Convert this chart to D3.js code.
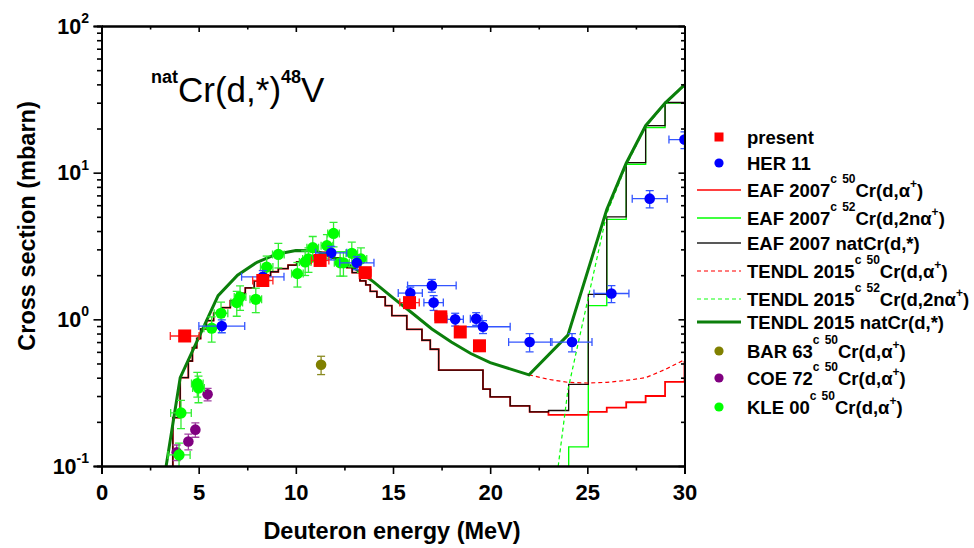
<!DOCTYPE html>
<html><head><meta charset="utf-8">
<script src="https://cdn.jsdelivr.net/npm/d3@7"></script>
<style>
body{margin:0;background:#fff}
svg{display:block}
text{font-family:"Liberation Sans",Arial,Helvetica,sans-serif}
</style>
</head><body>
<svg id="c" width="974" height="548"></svg>
<script>
// ---------------- data ----------------
const xTicks = [0, 5, 10, 15, 20, 25, 30];
const yTicks = [0.1, 1, 10, 100];
const yTickExp = ["-1", "0", "1", "2"];

// present (this work)
const presE  = [4.28, 8.30, 11.25, 13.57, 15.85, 17.46, 18.46, 19.45];
const presV  = [0.77, 1.84, 2.52, 2.08, 1.30, 1.04, 0.82, 0.66];
const presdE = [0.74, 0.52, 0.45, 0.30, 0.50, 0.30, 0.25, 0.20];
const presdV = [0.06, 0.12, 0.15, 0.13, 0.08, 0.07, 0.05, 0.05];

// HER 11
const herE  = [6.19, 8.30, 11.82, 13.14, 15.89, 17.00, 17.09, 18.20, 19.28, 19.63, 22.03, 24.21, 26.24, 28.21, 30.00];
const herV  = [0.90, 1.95, 2.84, 2.43, 1.51, 1.70, 1.30, 1.00, 1.01, 0.89, 0.70, 0.70, 1.50, 6.65, 16.8];
const herdE = [1.18, 1.09, 0.80, 0.88, 0.62, 1.25, 0.50, 0.42, 0.30, 1.40, 1.08, 1.03, 0.90, 0.90, 0.80];
const herdV = [0.09, 0.20, 0.30, 0.25, 0.15, 0.17, 0.15, 0.10, 0.10, 0.09, 0.10, 0.10, 0.20, 0.90, 2.2];

// BAR 63
const barE = [11.3], barV = [0.49], bardV = [0.07];

// COE 72
const coeE  = [3.87, 4.47, 4.83, 5.46];
const coeV  = [0.124, 0.147, 0.177, 0.308];
const coedV = [0.015, 0.018, 0.02, 0.03];

// KLE 00
const kleE  = [3.99, 4.09, 4.93, 4.99, 5.67, 6.15, 6.96, 7.13, 7.94, 8.50, 9.10, 10.08, 10.48, 10.65, 10.87, 11.60, 11.94, 12.28, 12.45, 12.88, 13.35];
const kleV  = [0.119, 0.23, 0.365, 0.34, 0.87, 1.10, 1.30, 1.42, 1.37, 2.27, 2.77, 2.05, 2.46, 2.58, 3.08, 3.18, 3.85, 2.43, 2.43, 2.82, 2.58];
const kledE = [0.57, 0.53, 0.30, 0.30, 0.40, 0.35, 0.30, 0.30, 0.30, 0.32, 0.30, 0.30, 0.30, 0.30, 0.30, 0.30, 0.30, 0.30, 0.30, 0.30, 0.30];
const kledV = [0.024, 0.05, 0.07, 0.07, 0.17, 0.21, 0.25, 0.27, 0.26, 0.43, 0.53, 0.39, 0.47, 0.49, 0.59, 0.6, 0.73, 0.46, 0.46, 0.54, 0.49];

// EAF 2007 natCr(d,*) staircase
const eafNatE = [3.0, 3.67, 4.05, 4.47, 4.68, 4.90, 5.10, 5.40, 5.77, 6.20, 6.63, 7.00, 7.40, 7.86, 8.30, 8.70, 9.10, 9.60, 10.04, 10.50, 10.90, 11.30, 11.85, 12.30, 12.62, 12.90, 13.30, 13.60, 13.83, 14.17, 14.60, 14.94, 15.71, 16.49, 16.92, 17.35, 19.63, 20.00, 21.03, 22.03, 23.00, 24.04, 25.05, 26.00, 27.00, 28.00, 29.00, 30.00];
const eafNatV = [0.02, 0.214, 0.40, 0.52, 0.64, 0.74, 0.86, 0.98, 1.10, 1.20, 1.34, 1.50, 1.64, 1.83, 1.98, 2.11, 2.22, 2.34, 2.46, 2.60, 2.72, 2.86, 2.62, 2.45, 2.25, 2.08, 1.83, 1.72, 1.55, 1.42, 1.24, 1.06, 0.855, 0.72, 0.625, 0.45, 0.334, 0.296, 0.257, 0.234, 0.239, 0.36, 1.48, 5.0, 11.7, 20.9, 30.1, 30.1];
// EAF 2007 50Cr(d,a) contribution
const eaf50E = [3.0, 3.67, 4.05, 4.47, 4.68, 4.90, 5.10, 5.40, 5.77, 6.20, 6.63, 7.00, 7.40, 7.86, 8.30, 8.70, 9.10, 9.60, 10.04, 10.50, 10.90, 11.30, 11.85, 12.30, 12.62, 12.90, 13.30, 13.60, 13.83, 14.17, 14.60, 14.94, 15.71, 16.49, 16.92, 17.35, 19.63, 20.00, 21.03, 22.03, 23.00, 25.05, 26.00, 27.00, 28.00, 29.00, 30.00];
const eaf50V = [0.02, 0.214, 0.40, 0.52, 0.64, 0.74, 0.86, 0.98, 1.10, 1.20, 1.34, 1.50, 1.64, 1.83, 1.98, 2.11, 2.22, 2.34, 2.46, 2.60, 2.72, 2.86, 2.62, 2.45, 2.25, 2.08, 1.83, 1.72, 1.55, 1.42, 1.24, 1.06, 0.855, 0.72, 0.625, 0.45, 0.334, 0.296, 0.257, 0.234, 0.223, 0.234, 0.25, 0.272, 0.30, 0.375, 0.52];
// EAF 2007 52Cr(d,2na) contribution
const eaf52E = [23.0, 24.04, 25.05, 26.0, 27.0, 28.0, 29.0, 30.0];
const eaf52V = [0.02, 0.135, 1.24, 4.8, 11.4, 20.3, 29.8, 29.8];

// TENDL 2015
const tNatE = [3.3, 4.05, 6, 7, 8, 9, 10, 11, 12, 13, 14, 15, 16, 17, 18, 19, 20, 22, 24, 26, 27, 28, 29, 30];
const tNatV = [0.095, 0.40, 1.45, 2.0, 2.45, 2.78, 2.95, 2.93, 2.62, 2.25, 1.80, 1.40, 1.10, 0.86, 0.70, 0.585, 0.507, 0.418, 0.78, 5.6, 11.6, 20.9, 29.8, 39.7];
const t50E = [22, 23, 24, 25, 26, 27, 28, 29, 30];
const t50V = [0.418, 0.39, 0.372, 0.368, 0.372, 0.383, 0.40, 0.455, 0.53];
const t52E = [23, 24, 26, 27, 28, 29, 30];
const t52V = [0.03, 0.33, 5.25, 11.2, 20.5, 29.35, 39.2];

const legendLabels = [
  "present",
  "HER 11",
  "EAF 2007^{c} ^{50}Cr(d,α^{+})",
  "EAF 2007^{c} ^{52}Cr(d,2nα^{+})",
  "EAF 2007 natCr(d,*)",
  "TENDL 2015^{c} ^{50}Cr(d,α^{+})",
  "TENDL 2015^{c} ^{52}Cr(d,2nα^{+})",
  "TENDL 2015 natCr(d,*)",
  "BAR 63^{c} ^{50}Cr(d,α^{+})",
  "COE 72^{c} ^{50}Cr(d,α^{+})",
  "KLE 00^{c} ^{50}Cr(d,α^{+})"
];

// ---------------- drawing ----------------
const svg = d3.select("#c");
const m = {l: 101.5, r: 684.5, t: 26, b: 466};
const x = d3.scaleLinear().domain([0, 30]).range([m.l, m.r]);
const y = d3.scaleLog().domain([0.1, 100]).range([m.b, m.t]);

svg.append("defs").append("clipPath").attr("id", "clip")
  .append("rect").attr("x", m.l).attr("y", m.t).attr("width", m.r - m.l).attr("height", m.b - m.t);

const plot = svg.append("g").attr("clip-path", "url(#clip)");
const zip = (E, V) => E.map((e, i) => [e, V[i]]);
const yy = v => y(Math.max(v, 1e-4));
const line = d3.line().x(d => x(d[0])).y(d => yy(d[1]));
const step = d3.line().curve(d3.curveStepAfter).x(d => x(d[0])).y(d => yy(d[1]));

const C = {red: "#ff0000", lime: "#00ff00", black: "#000000", dgreen: "#0b7f0b",
           blue: "#0000ff", olive: "#808000", purple: "#800080"};

function path(g, d, gen, color, w, dash) {
  const p = g.append("path").attr("d", gen(d)).attr("fill", "none")
    .attr("stroke", color).attr("stroke-width", w).attr("stroke-linejoin", "miter");
  if (dash) p.attr("stroke-dasharray", dash);
}
path(plot, zip(eaf50E, eaf50V), step, C.red, 1.8);
path(plot, zip(eaf52E, eaf52V), step, C.lime, 1.4);
path(plot, zip(eafNatE, eafNatV), step, "#1a0a0a", 1.3);
path(plot, zip(t50E, t50V), line, C.red, 1.2, "4,3");
path(plot, zip(t52E, t52V), line, C.lime, 1.2, "4,3");
path(plot, zip(tNatE, tNatV), line, C.dgreen, 3);

function series(E, V, dE, dV, color, barColor, shape, size) {
  const g = plot.append("g");
  const cap = 4;
  E.forEach((e, i) => {
    const cx = x(e), cy = y(V[i]);
    const de = dE ? dE[i] : 0, dv = dV ? dV[i] : 0;
    if (de > 0) {
      const x1 = x(e - de), x2 = x(e + de);
      g.append("line").attr("x1", x1).attr("x2", x2).attr("y1", cy).attr("y2", cy);
      g.append("line").attr("x1", x1).attr("x2", x1).attr("y1", cy - cap).attr("y2", cy + cap);
      g.append("line").attr("x1", x2).attr("x2", x2).attr("y1", cy - cap).attr("y2", cy + cap);
    }
    if (dv > 0) {
      const y1 = y(V[i] + dv), y2 = y(Math.max(V[i] - dv, 1e-3));
      g.append("line").attr("x1", cx).attr("x2", cx).attr("y1", y1).attr("y2", y2);
      g.append("line").attr("x1", cx - cap).attr("x2", cx + cap).attr("y1", y1).attr("y2", y1);
      g.append("line").attr("x1", cx - cap).attr("x2", cx + cap).attr("y1", y2).attr("y2", y2);
    }
  });
  g.selectAll("line").attr("stroke", barColor).attr("stroke-width", 1.3);
  E.forEach((e, i) => {
    const cx = x(e), cy = y(V[i]);
    if (shape === "square") {
      g.append("rect").attr("x", cx - size / 2).attr("y", cy - size / 2)
        .attr("width", size).attr("height", size).attr("fill", color);
    } else {
      g.append("circle").attr("cx", cx).attr("cy", cy).attr("r", size).attr("fill", color);
    }
  });
}
series(barE, barV, null, bardV, C.olive, "#8a8a20", "circle", 5.3);
series(coeE, coeV, null, coedV, C.purple, "#a040a0", "circle", 5.3);
series(kleE, kleV, kledE, kledV, C.lime, "#33ee33", "circle", 5.6);
series(herE, herV, herdE, herdV, C.blue, "#3355ff", "circle", 5.3);
series(presE, presV, presdE, presdV, C.red, "#ff2020", "square", 13);

// ---------------- axes ----------------
const axes = svg.append("g");
function styleAxis(g, w) {
  g.select(".domain").attr("stroke", "#000").attr("stroke-width", 2);
  g.selectAll(".tick line").attr("stroke", "#000").attr("stroke-width", w || 1.6);
}
const xMinor = d3.range(2.5, 30, 5);
const yMinor = [];
[0.1, 1, 10].forEach(d => { for (let k = 2; k <= 9; k++) yMinor.push(d * k); });

// bottom
const gb = axes.append("g").attr("transform", `translate(0,${m.b})`)
  .call(d3.axisBottom(x).tickValues(xTicks).tickSize(8).tickPadding(10).tickFormat(d3.format("d")));
styleAxis(gb);
gb.selectAll("text").attr("font-size", 22).attr("font-weight", "bold").attr("fill", "#000")
  .attr("font-family", '"Liberation Sans",Arial,sans-serif');
styleAxis(axes.append("g").attr("transform", `translate(0,${m.b})`)
  .call(d3.axisBottom(x).tickValues(xMinor).tickSize(4.5).tickFormat("")));
// top (inward)
styleAxis(axes.append("g").attr("transform", `translate(0,${m.t})`)
  .call(d3.axisBottom(x).tickValues(xTicks).tickSize(6).tickSizeOuter(0).tickFormat("")));
styleAxis(axes.append("g").attr("transform", `translate(0,${m.t})`)
  .call(d3.axisBottom(x).tickValues(xMinor).tickSize(3.5).tickSizeOuter(0).tickFormat("")));
// left
styleAxis(axes.append("g").attr("transform", `translate(${m.l},0)`)
  .call(d3.axisLeft(y).tickValues(yTicks).tickSize(8).tickFormat("")));
styleAxis(axes.append("g").attr("transform", `translate(${m.l},0)`)
  .call(d3.axisLeft(y).tickValues(yMinor).tickSize(4.5).tickFormat("")));
// right (inward)
styleAxis(axes.append("g").attr("transform", `translate(${m.r},0)`)
  .call(d3.axisLeft(y).tickValues(yTicks).tickSize(6).tickSizeOuter(0).tickFormat("")));
styleAxis(axes.append("g").attr("transform", `translate(${m.r},0)`)
  .call(d3.axisLeft(y).tickValues(yMinor).tickSize(3.5).tickSizeOuter(0).tickFormat("")));

// y tick labels 10^n
yTicks.forEach((v, i) => {
  const t = svg.append("text").attr("x", 89).attr("y", y(v) + 7.5)
    .attr("text-anchor", "end").attr("font-weight", "bold").attr("font-size", 21.5);
  t.append("tspan").text("10");
  t.append("tspan").attr("font-size", 14).attr("dy", -10.5).text(yTickExp[i]);
});

// axis titles
svg.append("text").attr("x", 392).attr("y", 539).attr("text-anchor", "middle")
  .attr("font-weight", "bold").attr("font-size", 23.5).text("Deuteron energy (MeV)");
svg.append("text").attr("transform", `translate(35,${(m.t + m.b) / 2 - 20}) rotate(-90)`)
  .attr("text-anchor", "middle").attr("font-weight", "bold").attr("font-size", 23.5)
  .text("Cross section (mbarn)");

// rich text helper: "^{...}" = superscript
function rich(t, str, supSize, shift, supBold, shiftFn) {
  const parts = [];
  const re = /\^\{([^}]*)\}/g;
  let last = 0, mm;
  while ((mm = re.exec(str))) {
    if (mm.index > last) parts.push([str.slice(last, mm.index), false]);
    parts.push([mm[1], true]);
    last = re.lastIndex;
  }
  if (last < str.length) parts.push([str.slice(last), false]);
  let cur = 0;
  parts.forEach(([s, sup]) => {
    const target = sup ? -(shiftFn ? shiftFn(s) : shift) : 0;
    const ts = t.append("tspan").text(s).attr("dy", target - cur);
    cur = target;
    if (sup) { ts.attr("font-size", supSize); if (supBold) ts.attr("font-weight", "bold"); }
  });
}

// chart title
const title = svg.append("text").attr("x", 151).attr("y", 101.5).attr("font-size", 35)
  .attr("font-weight", "normal");
rich(title, "^{nat}Cr(d,*)^{48}V", 18, 19, true);

// legend
const legY = [137, 163, 190, 218, 243, 271, 299, 322, 351, 378, 407];
const legSym = [
  {type: "square", c: C.red}, {type: "circle", c: C.blue},
  {type: "line", c: C.red, w: 1.3}, {type: "line", c: C.lime, w: 1.3}, {type: "line", c: "#222", w: 1.3},
  {type: "line", c: "#ff5050", w: 1.3, dash: "4,3"}, {type: "line", c: "#60ff60", w: 1.3, dash: "4,3"},
  {type: "line", c: C.dgreen, w: 3},
  {type: "circle", c: C.olive}, {type: "circle", c: C.purple}, {type: "circle", c: C.lime}
];
const leg = svg.append("g");
legendLabels.forEach((lab, i) => {
  const yc = legY[i], s = legSym[i];
  if (s.type === "square") leg.append("rect").attr("x", 719 - 4.5).attr("y", yc - 4.5).attr("width", 9).attr("height", 9).attr("fill", s.c);
  else if (s.type === "circle") leg.append("circle").attr("cx", 719).attr("cy", yc).attr("r", 4.6).attr("fill", s.c);
  else {
    const l = leg.append("line").attr("x1", 697).attr("x2", 741).attr("y1", yc).attr("y2", yc)
      .attr("stroke", s.c).attr("stroke-width", s.w);
    if (s.dash) l.attr("stroke-dasharray", s.dash);
  }
  const t = leg.append("text").attr("x", 747).attr("y", yc + 6.5)
    .attr("font-size", 18.5).attr("font-weight", "bold");
  rich(t, lab, 12, 14, true, s2 => s2 === "+" ? 8.5 : 13.5);
});
</script>
</body></html>
